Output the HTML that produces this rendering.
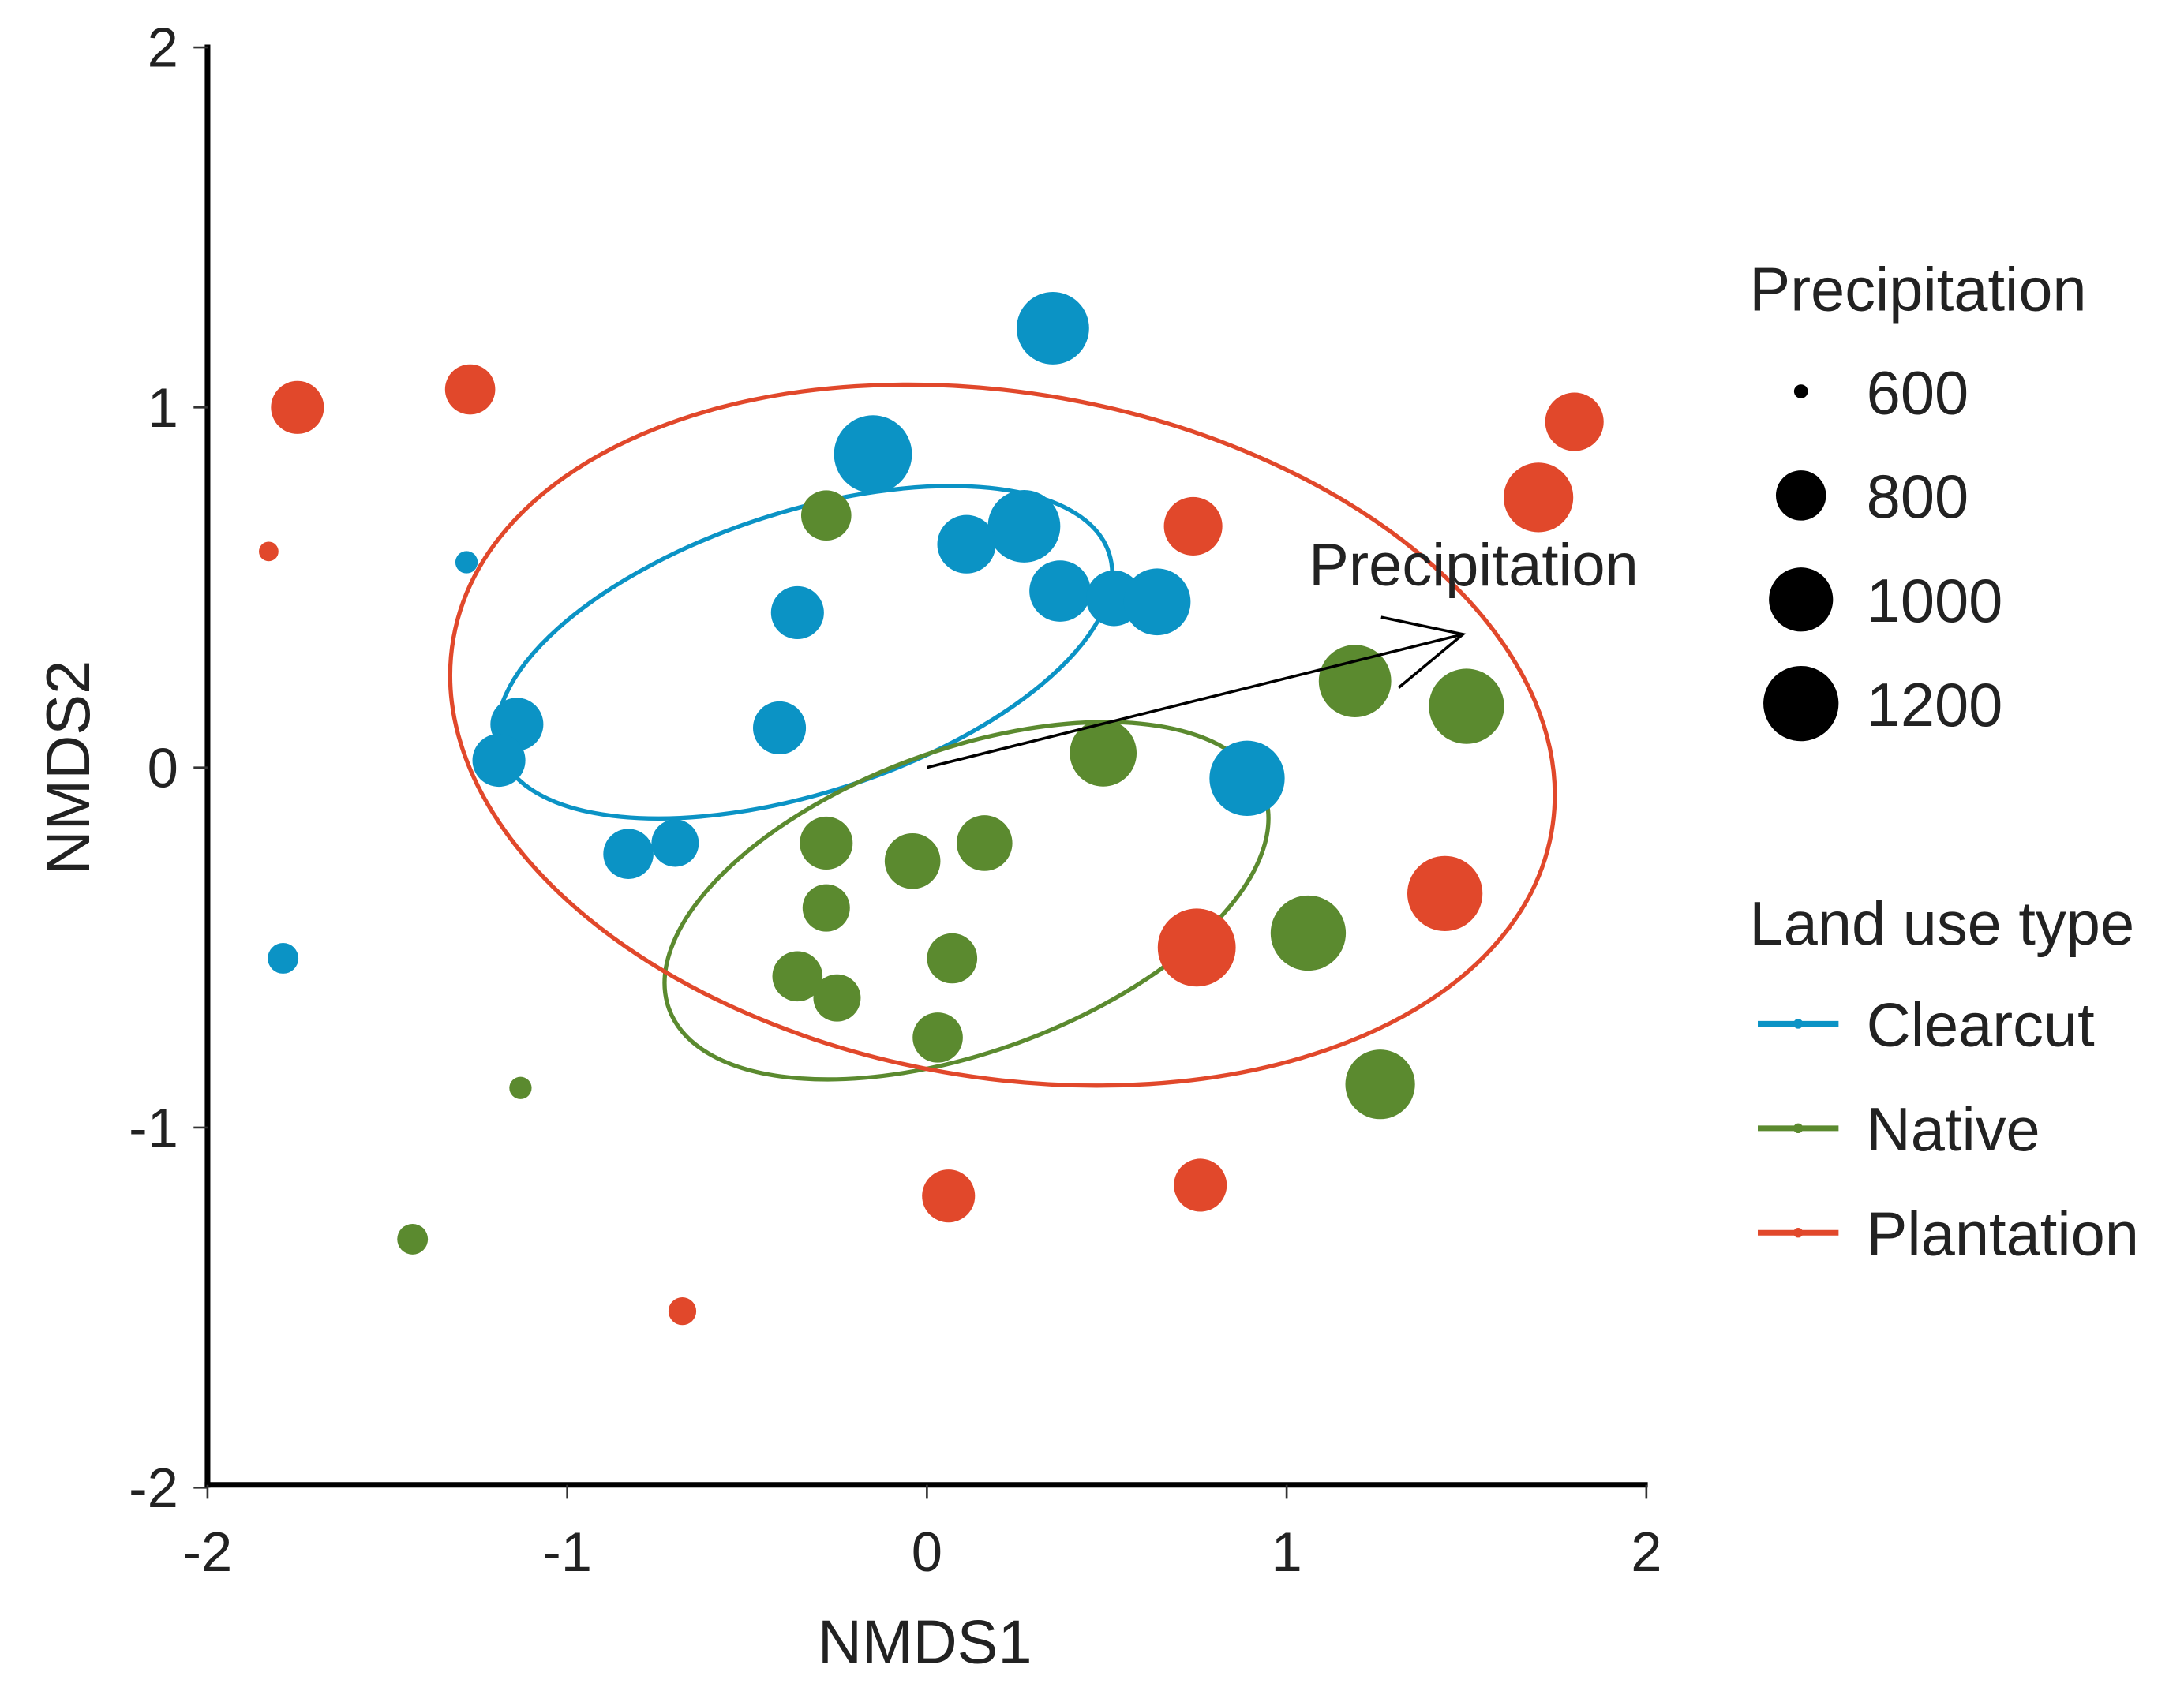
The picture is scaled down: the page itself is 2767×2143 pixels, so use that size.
<!DOCTYPE html>
<html><head><meta charset="utf-8"><style>
html,body{margin:0;padding:0;background:#fff}
svg{display:block}
text{font-family:"Liberation Sans",Arial,sans-serif;fill:#222}
</style></head><body>
<svg id="chart" width="2767" height="2143" viewBox="0 0 1568 1214" preserveAspectRatio="none" xmlns="http://www.w3.org/2000/svg">
<g id="ellipses"></g>
<g id="points"></g>
<g id="arrow"></g>
<g id="axes"></g>
<g id="legend"></g>
</svg>
<script>
const groups = ["Clearcut","Native","Plantation"];
const colors = ["#0b93c5","#5b8a2f","#e1482b"];
const clearX = [0.35,-0.15,0.27,0.11,0.37,0.52,0.64,-0.36,-1.14,-1.19,-0.41,-0.83,-0.70,0.89,-1.28,-1.79];
const clearY = [1.22,0.87,0.67,0.62,0.49,0.47,0.46,0.43,0.12,0.02,0.11,-0.24,-0.21,-0.03,0.57,-0.53];
const clearP = [1173,1227,1173,1036,1064,1009,1118,982,982,982,982,955,927,1200,682,764];
const nativeX = [-0.28,1.19,1.50,0.49,-0.28,-0.04,0.16,-0.28,0.07,-0.36,-0.25,0.03,1.06,1.26,-1.13,-1.43];
const nativeY = [0.70,0.24,0.17,0.04,-0.21,-0.26,-0.21,-0.39,-0.53,-0.58,-0.64,-0.75,-0.46,-0.88,-0.89,-1.31];
const nativeP = [955,1173,1200,1118,982,1009,1009,927,955,955,927,955,1200,1145,682,764];
const plantX = [-1.75,-1.27,1.80,1.70,0.74,1.44,0.75,0.06,0.76,-1.83,-0.68];
const plantY = [1.00,1.05,0.96,0.75,0.67,-0.35,-0.50,-1.19,-1.16,0.60,-1.51];
const plantP = [982,955,1036,1145,1036,1200,1227,982,982,655,736];
const ellCx = [-0.34,0.11,0.21];
const ellCy = [0.32,-0.37,0.09];
const ellA = [0.89,0.88,1.55];
const ellB = [0.39,0.42,0.95];
const ellAngle = [-18,-20,10];
const arrowFrom = [0,0];
const arrowTo = [1.49,0.37];
const xTicks = [-2,-1,0,1,2];
const yTicks = [-2,-1,0,1,2];
const legendSizes = [600,800,1000,1200];

const NS="http://www.w3.org/2000/svg";
const X0=149,XU=258.25,Y0=551,YU=258.5;
function sx(v){return X0+(v+2)*XU;}
function sy(v){return Y0-v*YU;}
function rad(p){return Math.max(3,5+(p-600)*22/600);}
function mk(tag,attrs,parent){const e=document.createElementNS(NS,tag);for(const k in attrs)e.setAttribute(k,attrs[k]);parent.appendChild(e);return e;}

const gE=document.getElementById('ellipses');
for(let i=0;i<3;i++){
  const e=mk('ellipse',{cx:sx(ellCx[i]),cy:sy(ellCy[i]),rx:ellA[i]*XU,ry:ellB[i]*YU,fill:'none',stroke:colors[i],'stroke-width':3,transform:`rotate(${ellAngle[i]} ${sx(ellCx[i])} ${sy(ellCy[i])})`},gE);
  
  
}
const gP=document.getElementById('points');
const sets=[[clearX,clearY,clearP],[nativeX,nativeY,nativeP],[plantX,plantY,plantP]];
sets.forEach((s,gi)=>{
  for(let i=0;i<s[0].length;i++){
    const c=mk('circle',{cx:sx(s[0][i]),cy:sy(s[1][i]),r:rad(s[2][i]),fill:colors[gi]},gP);
    
    
  }
});
const gA=document.getElementById('arrow');
{
  const x1=sx(arrowFrom[0]),y1=sy(arrowFrom[1]),x2=sx(arrowTo[0]),y2=sy(arrowTo[1]);
  const l=mk('line',{x1,y1,x2,y2,stroke:'#000','stroke-width':2},gA);
  
  
  const ang=Math.atan2(y2-y1,x2-x1),h=60,sp=0.45;
  const p=mk('polyline',{points:`${x2-h*Math.cos(ang-sp)},${y2-h*Math.sin(ang-sp)} ${x2},${y2} ${x2-h*Math.cos(ang+sp)},${y2-h*Math.sin(ang+sp)}`,fill:'none',stroke:'#000','stroke-width':2},gA);
  
  
  const t=mk('text',{x:x2+126,y:y2-35,'font-size':43,'text-anchor':'end'},gA);
  t.textContent='Precipitation';
  
  
}
const gX=document.getElementById('axes');
{
  const a=mk('line',{x1:149,y1:32,x2:149,y2:1068,stroke:'#000','stroke-width':4},gX);
  
  
  const b=mk('line',{x1:147,y1:1066,x2:1183,y2:1066,stroke:'#000','stroke-width':4},gX);
  
  
  xTicks.forEach(v=>{
    const tk=mk('line',{x1:sx(v),y1:1066,x2:sx(v),y2:1076,stroke:'#333','stroke-width':1.5},gX);
    
    
    const t=mk('text',{x:sx(v),y:1128,'font-size':40,'text-anchor':'middle',fill:'#333'},gX);
    t.textContent=v;
    
    
  });
  yTicks.forEach(v=>{
    const tk=mk('line',{x1:139,y1:sy(v),x2:149,y2:sy(v),stroke:'#333','stroke-width':1.5},gX);
    
    
    const t=mk('text',{x:128,y:sy(v)+14,'font-size':40,'text-anchor':'end',fill:'#333'},gX);
    t.textContent=v;
    
    
  });
  const xt=mk('text',{x:664,y:1194,'font-size':44,'text-anchor':'middle'},gX);
  xt.textContent='NMDS1';
  
  
  const yt=mk('text',{x:0,y:0,'font-size':44,'text-anchor':'middle',transform:'translate(64,551) rotate(-90)'},gX);
  yt.textContent='NMDS2';
  
  
}
const gL=document.getElementById('legend');
{
  const t=mk('text',{x:1256,y:223,'font-size':44},gL);
  t.textContent='Precipitation';
  
  
  const rs=[5,18,23,27];
  legendSizes.forEach((v,i)=>{
    const y=281+i*74.7;
    const c=mk('circle',{cx:1293,cy:y,r:rs[i],fill:'#000'},gL);
    
    
    const tt=mk('text',{x:1340,y:y+16,'font-size':44},gL);
    tt.textContent=v;
    
    
  });
  const t2=mk('text',{x:1256,y:678,'font-size':44},gL);
  t2.textContent='Land use type';
  
  
  groups.forEach((g,i)=>{
    const y=735+i*75;
    const l=mk('line',{x1:1262,y1:y,x2:1320,y2:y,stroke:colors[i],'stroke-width':4},gL);
    
    
    const d=mk('circle',{cx:1291,cy:y,r:3.5,fill:colors[i]},gL);
    
    
    const tt=mk('text',{x:1340,y:y+16,'font-size':44},gL);
    tt.textContent=g;
    
    
  });
}
</script>
</body></html>
